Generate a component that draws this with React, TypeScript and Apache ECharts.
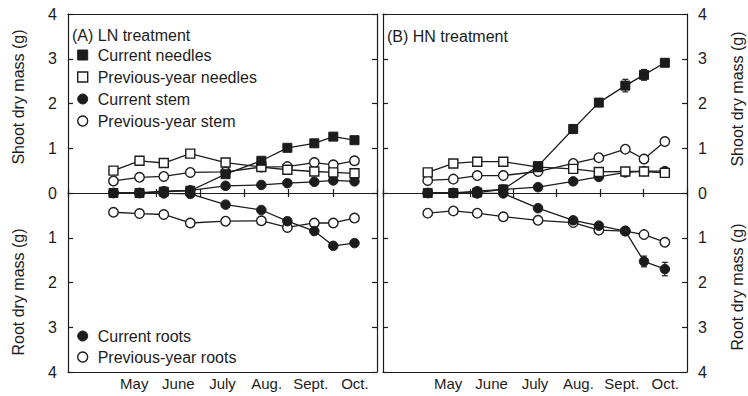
import React, { useEffect, useRef } from 'react';
import * as echarts from 'echarts';

const FONT = '"Liberation Sans", Arial, Helvetica, sans-serif';
const INK = '#1c1c1c';

// Month bands on the time axis (April .. October); April is left unlabelled
const monthLabels = ['', 'May', 'June', 'July', 'Aug.', 'Sept.', 'Oct.'];
// Harvest dates, in months after 1 April
const sampleMonths = [1.03, 1.62, 2.17, 2.77, 3.57, 4.38, 4.97, 5.58, 6.01, 6.49];

// (A) LN treatment, dry mass in g
const curNeedlesLN = [0, 0, 0.03, 0.05, 0.42, 0.72, 1.01, 1.11, 1.26, 1.18];
const prevNeedlesLN = [0.5, 0.72, 0.67, 0.88, 0.68, 0.58, 0.52, 0.48, 0.46, 0.44];
const curStemLN = [0, 0, 0.04, 0.06, 0.16, 0.18, 0.22, 0.25, 0.28, 0.26];
const prevStemLN = [0.27, 0.35, 0.37, 0.46, 0.47, 0.58, 0.59, 0.68, 0.63, 0.72];
const curRootsLN = [0, 0, 0.01, 0.02, 0.26, 0.38, 0.63, 0.85, 1.18, 1.12];
const prevRootsLN = [0.43, 0.46, 0.48, 0.67, 0.63, 0.62, 0.77, 0.67, 0.67, 0.56];

// (B) HN treatment, dry mass in g
const curNeedlesHN = [0, 0, 0.01, 0.08, 0.6, 1.43, 2.02, 2.4, 2.64, 2.91];
const prevNeedlesHN = [0.46, 0.66, 0.7, 0.7, 0.58, 0.54, 0.47, 0.48, 0.48, 0.45];
const curStemHN = [0, 0, 0.04, 0.08, 0.13, 0.26, 0.36, 0.46, 0.49, 0.49];
const prevStemHN = [0.28, 0.31, 0.39, 0.39, 0.48, 0.66, 0.79, 0.98, 0.76, 1.15];
const curRootsHN = [0, 0, 0.01, 0.01, 0.34, 0.61, 0.73, 0.85, 1.53, 1.7];
const prevRootsHN = [0.45, 0.4, 0.45, 0.53, 0.61, 0.66, 0.83, 0.85, 0.93, 1.1];

// Standard errors (only the visible ones)
const errCurNeedlesHN = [0, 0, 0, 0, 0.04, 0.1, 0.08, 0.14, 0.12, 0.07];
const errPrevStemHN = [0, 0, 0, 0, 0, 0, 0, 0, 0, 0.05];
const errCurRootsHN = [0, 0, 0, 0, 0, 0, 0, 0, 0.12, 0.15];
const errPrevRootsHN = [0, 0, 0, 0, 0, 0, 0, 0, 0.04, 0.08];
const errPrevRootsLN = [0, 0, 0, 0, 0, 0, 0, 0, 0, 0.07];

const NAMES = {
  cn: 'Current needles',
  pn: 'Previous-year needles',
  cs: 'Current stem',
  ps: 'Previous-year stem',
  cr: 'Current roots',
  pr: 'Previous-year roots',
};

const filledStyle = { color: INK, borderColor: INK, borderWidth: 1 };
const hollowStyle = { color: '#ffffff', borderColor: INK, borderWidth: 1.4 };

function lineSeries(panel: number, name: string, values: number[], square: boolean, filled: boolean, root: boolean) {
  return {
    type: 'line',
    name,
    xAxisIndex: panel * 4 + 2,
    yAxisIndex: panel * 2,
    data: values.map((v, i) => [sampleMonths[i], root ? -v : v]),
    symbol: square ? 'rect' : 'circle',
    symbolSize: square ? 9 : 9.5,
    showAllSymbol: true,
    lineStyle: { color: INK, width: 1.3 },
    itemStyle: filled ? filledStyle : hollowStyle,
    emphasis: { disabled: true },
  };
}

function errorSeries(panel: number, values: number[], errs: number[], root: boolean) {
  const data: number[][] = [];
  values.forEach((v, i) => {
    if (errs[i] > 0) {
      const s = root ? -1 : 1;
      data.push([sampleMonths[i], s * (v - errs[i]), s * (v + errs[i])]);
    }
  });
  return {
    type: 'custom',
    xAxisIndex: panel * 4 + 2,
    yAxisIndex: panel * 2,
    z: 1,
    data,
    renderItem: (_params: any, api: any) => {
      const x = api.value(0);
      const lo = api.coord([x, api.value(1)]);
      const hi = api.coord([x, api.value(2)]);
      const st = { stroke: INK, lineWidth: 1.2 };
      return {
        type: 'group',
        children: [
          { type: 'line', shape: { x1: lo[0], y1: lo[1], x2: hi[0], y2: hi[1] }, style: st },
          { type: 'line', shape: { x1: lo[0] - 3, y1: lo[1], x2: lo[0] + 3, y2: lo[1] }, style: st },
          { type: 'line', shape: { x1: hi[0] - 3, y1: hi[1], x2: hi[0] + 3, y2: hi[1] }, style: st },
        ],
      };
    },
  };
}

function panelXAxes(panel: number) {
  const lineStyle = { color: INK, width: 1.2 };
  return [
    {
      type: 'category',
      gridIndex: panel,
      position: 'bottom',
      data: monthLabels,
      boundaryGap: true,
      axisLine: { onZero: false, lineStyle },
      axisTick: { inside: true, length: 5, lineStyle, interval: 0 },
      axisLabel: { interval: 0, fontSize: 15, color: INK, fontFamily: FONT, margin: 4 },
      splitLine: { show: false },
    },
    {
      type: 'category',
      gridIndex: panel,
      position: 'top',
      data: monthLabels,
      boundaryGap: true,
      axisLine: { onZero: false, lineStyle },
      axisTick: { inside: true, length: 5, lineStyle, interval: 0 },
      axisLabel: { show: false },
      splitLine: { show: false },
    },
    {
      type: 'value',
      gridIndex: panel,
      position: 'bottom',
      min: 0,
      max: 7,
      interval: 1,
      axisLine: { onZero: true, lineStyle },
      axisTick: { inside: false, length: 4, lineStyle },
      axisLabel: { show: false },
      splitLine: { show: false },
    },
    {
      type: 'value',
      gridIndex: panel,
      position: 'bottom',
      min: 0,
      max: 7,
      interval: 1,
      axisLine: { show: false, onZero: true },
      axisTick: { inside: true, length: 4, lineStyle },
      axisLabel: { show: false },
      splitLine: { show: false },
    },
  ];
}

function panelYAxis(panel: number, position: 'left' | 'right', labels: boolean) {
  const lineStyle = { color: INK, width: 1.2 };
  return {
    type: 'value',
    gridIndex: panel,
    position,
    min: -4,
    max: 4,
    interval: 1,
    axisLine: { show: true, onZero: false, lineStyle },
    axisTick: { show: true, inside: true, length: 5, lineStyle },
    axisLabel: {
      show: labels,
      fontSize: 16,
      color: INK,
      fontFamily: FONT,
      margin: 11,
      formatter: (v: number) => String(Math.abs(v)),
    },
    splitLine: { show: false },
  };
}

function axisTitle(text: string, x: number, y: number) {
  return {
    type: 'text',
    x,
    y,
    rotation: Math.PI / 2,
    style: { text, fill: INK, font: `16px ${FONT}`, align: 'center', verticalAlign: 'middle' },
  };
}

function legendItem(name: string, square: boolean, filled: boolean) {
  return { name, icon: square ? 'rect' : 'circle', itemStyle: filled ? filledStyle : hollowStyle };
}

const legendBase = {
  orient: 'vertical',
  left: 77,
  padding: 0,
  itemWidth: 10,
  itemHeight: 10,
  itemGap: 6,
  selectedMode: false,
  textStyle: { fontSize: 16, color: INK, fontFamily: FONT, lineHeight: 16, padding: [0, 0, 0, 5] },
};

export default function App() {
  const ref = useRef<HTMLDivElement>(null);

  useEffect(() => {
    if (!ref.current) return;
    document.body.style.margin = '0';
    const chart = echarts.init(ref.current, undefined, { renderer: 'svg' });

    const panels = [
      { cn: curNeedlesLN, pn: prevNeedlesLN, cs: curStemLN, ps: prevStemLN, cr: curRootsLN, pr: prevRootsLN },
      { cn: curNeedlesHN, pn: prevNeedlesHN, cs: curStemHN, ps: prevStemHN, cr: curRootsHN, pr: prevRootsHN },
    ];

    const series: any[] = [];
    panels.forEach((d, p) => {
      series.push(lineSeries(p, NAMES.pr, d.pr, false, false, true));
      series.push(lineSeries(p, NAMES.cr, d.cr, false, true, true));
      series.push(lineSeries(p, NAMES.ps, d.ps, false, false, false));
      series.push(lineSeries(p, NAMES.cs, d.cs, false, true, false));
      series.push(lineSeries(p, NAMES.pn, d.pn, true, false, false));
      series.push(lineSeries(p, NAMES.cn, d.cn, true, true, false));
    });
    series.push(errorSeries(0, prevRootsLN, errPrevRootsLN, true));
    series.push(errorSeries(1, curNeedlesHN, errCurNeedlesHN, false));
    series.push(errorSeries(1, prevStemHN, errPrevStemHN, false));
    series.push(errorSeries(1, curRootsHN, errCurRootsHN, true));
    series.push(errorSeries(1, prevRootsHN, errPrevRootsHN, true));

    chart.setOption({
      animation: false,
      backgroundColor: '#ffffff',
      textStyle: { fontFamily: FONT },
      grid: [
        { left: 68, top: 14, width: 309, height: 358, show: false },
        { left: 383, top: 14, width: 304, height: 358, show: false },
      ],
      xAxis: [...panelXAxes(0), ...panelXAxes(1)],
      yAxis: [
        panelYAxis(0, 'left', true),
        panelYAxis(0, 'right', false),
        panelYAxis(1, 'left', false),
        panelYAxis(1, 'right', true),
      ],
      legend: [
        {
          ...legendBase,
          top: 47,
          data: [
            legendItem(NAMES.cn, true, true),
            legendItem(NAMES.pn, true, false),
            legendItem(NAMES.cs, false, true),
            legendItem(NAMES.ps, false, false),
          ],
        },
        {
          ...legendBase,
          top: 328,
          itemGap: 5,
          data: [legendItem(NAMES.cr, false, true), legendItem(NAMES.pr, false, false)],
        },
      ],
      graphic: [
        { type: 'text', x: 72, y: 35, style: { text: '(A) LN treatment', fill: INK, font: `16px ${FONT}`, verticalAlign: 'middle' } },
        { type: 'text', x: 387, y: 36, style: { text: '(B) HN treatment', fill: INK, font: `16px ${FONT}`, verticalAlign: 'middle' } },
        axisTitle('Shoot dry mass (g)', 18, 97),
        axisTitle('Root dry mass (g)', 18, 292),
        axisTitle('Shoot dry mass (g)', 737, 99),
        axisTitle('Root dry mass (g)', 737, 287),
      ],
      series,
    });

    return () => chart.dispose();
  }, []);

  return <div ref={ref} style={{ position: 'absolute', left: 0, top: 0, width: 748, height: 396 }} />;
}
